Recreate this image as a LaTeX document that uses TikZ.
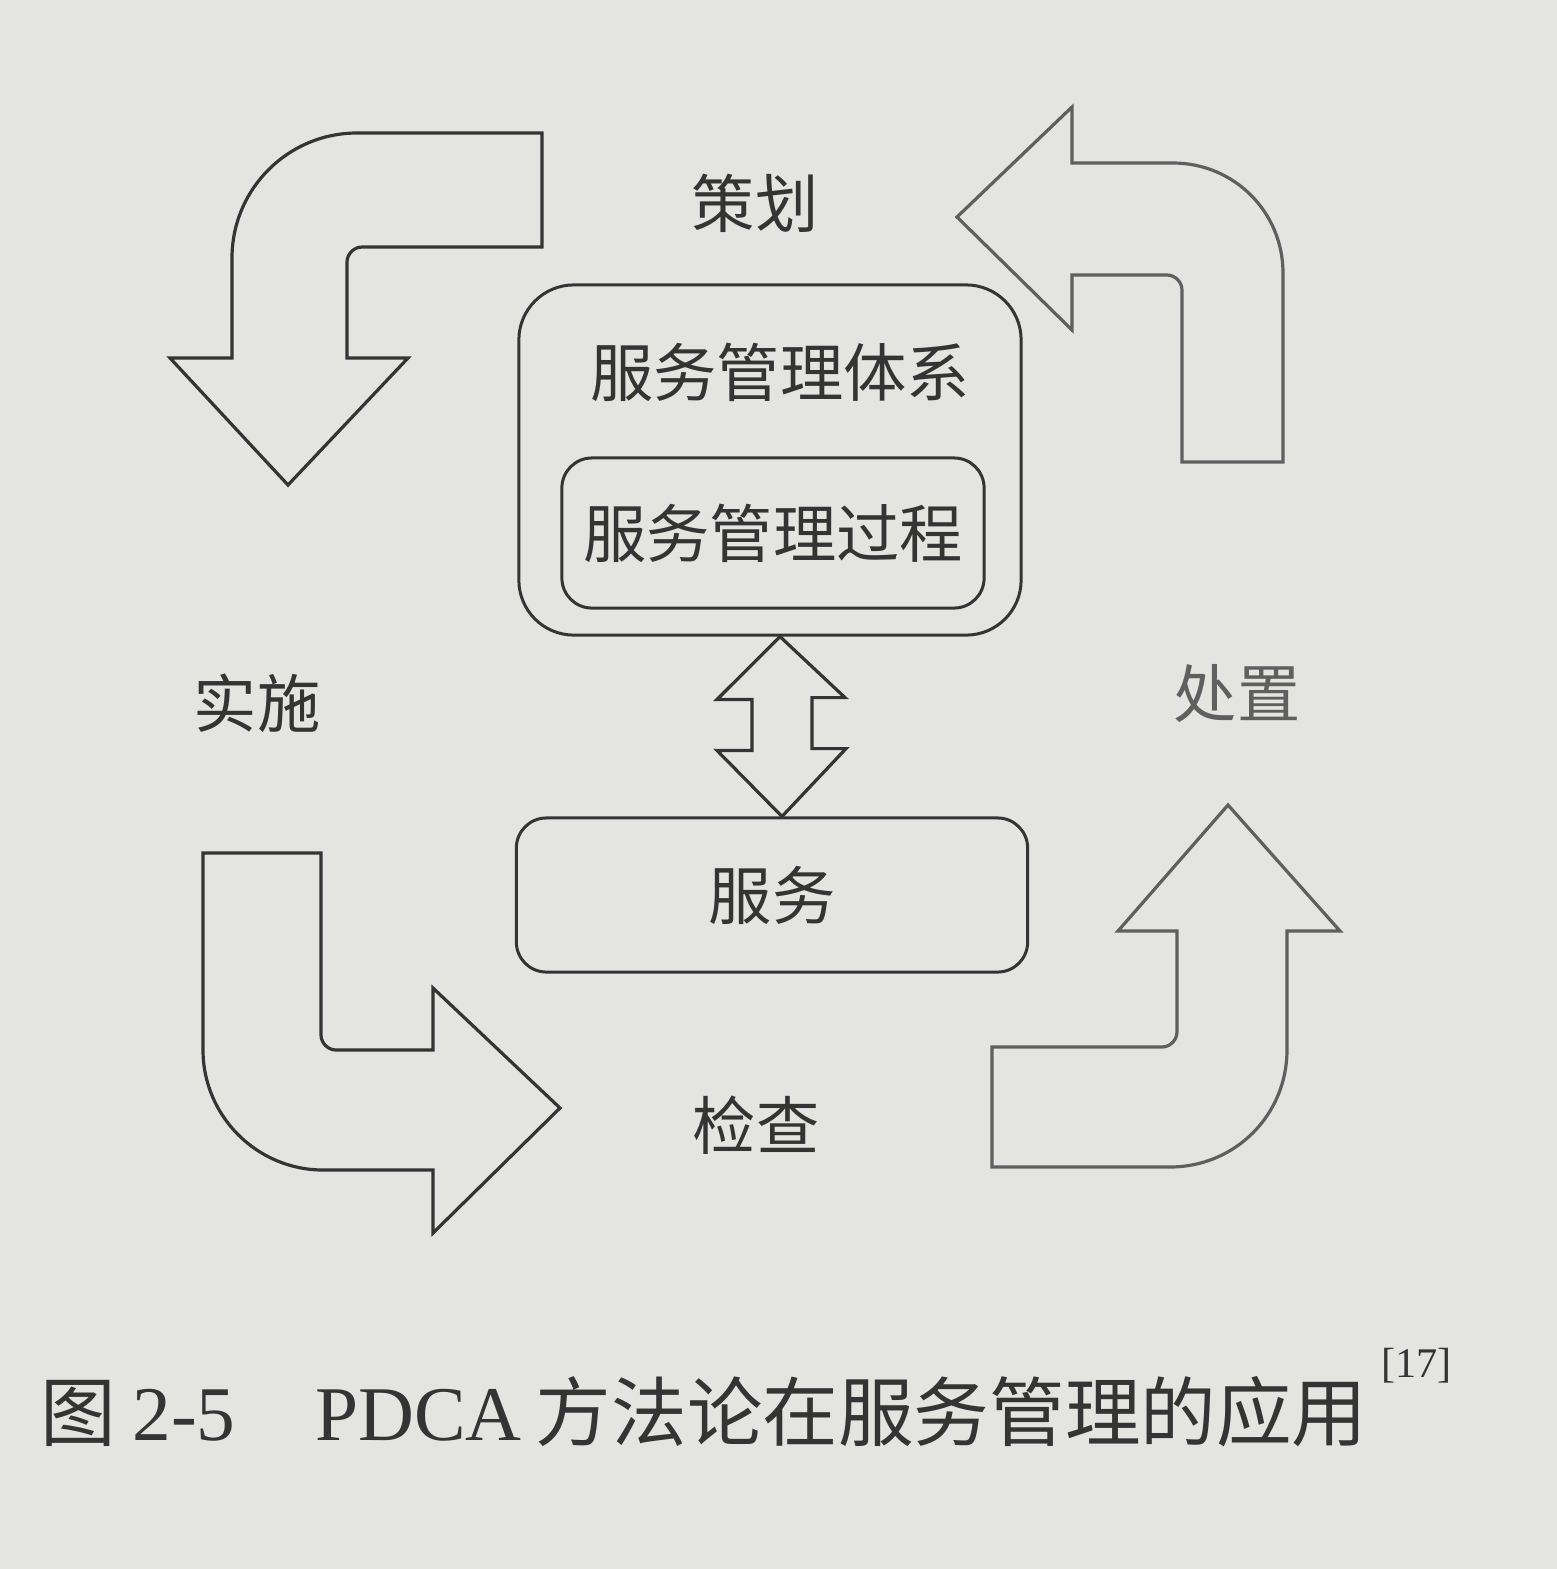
\documentclass[tikz,border=0pt]{standalone}
\usepackage{fontspec}
\setmainfont{Liberation Serif}
\newfontfamily\cjk{Noto Sans CJK SC}
\newcommand\cjklabel{\fontsize{18pt}{21pt}\selectfont\cjk}
\definecolor{paper}{RGB}{228,228,224}
\definecolor{inkdark}{RGB}{52,52,52}
\definecolor{inksoft}{RGB}{95,95,95}
\begin{document}
\begin{tikzpicture}[
  x=0.01cm, y=-0.01cm,
  bigarrow/.style={draw=inkdark, line width=0.032cm, line join=miter},
  softarrow/.style={bigarrow, draw=inksoft},
  panel/.style={draw=inkdark, line width=0.03cm, inner sep=0pt},
  word/.style={inner sep=0pt, text=inkdark, font=\cjklabel},
]
% page
\fill[paper] (0,0) rectangle (1557,1569);
\useasboundingbox (0,0) rectangle (1557,1569);

% central blocks
\node[panel, minimum width=5.02cm, minimum height=3.5cm, rounded corners=0.55cm] (sys) at (770,460) {};
\node[word] (systxt) at (780,372) {服务管理体系};
\node[panel, minimum width=4.22cm, minimum height=1.5cm, rounded corners=0.3cm, font=\cjklabel, text=inkdark] (proc) at (773,533) {服务管理过程};
\node[panel, minimum width=5.11cm, minimum height=1.54cm, rounded corners=0.3cm, font=\cjklabel, text=inkdark] (svc) at (772,895) {服务};

% two-way arrow between the system and the service
\draw[bigarrow] ([xshift=0.1cm]sys.south) -- ++(65,61) -- ++(-33,0) -- ++(0,51) -- ++(34,0)
  -- ([xshift=0.1cm]svc.north) -- ++(-65,-66) -- ++(35,0) -- ++(0,-51) -- ++(-35,0) -- cycle;

% phase labels
\node[word] (plan) at (755,203) {策划};
\node[word] (do) at (257,703) {实施};
\node[word, text=inksoft] (act) at (1237,694) {处置};
\node[word] (check) at (756,1125) {检查};

% plan -> do
\draw[bigarrow] (542,133) -- (357,133) .. controls (288,133) and (232,189) .. (232,258)
  -- (232,358) -- (170,358) -- (288,485) -- (408,358) -- (347,358) -- (347,262)
  .. controls (347,254) and (354,247) .. (362,247) -- (542,247) -- cycle;

% act -> plan
\draw[softarrow] (957,217) -- (1072,107) -- (1072,163) -- (1173,163)
  .. controls (1234,163) and (1283,212) .. (1283,273) -- (1283,462) -- (1182,462) -- (1182,290)
  .. controls (1182,282) and (1175,275) .. (1167,275) -- (1072,275) -- (1072,330) -- cycle;

% do -> check
\draw[bigarrow] (203,853) -- (321,853) -- (321,1035) .. controls (321,1043) and (328,1050) .. (336,1050)
  -- (433,1050) -- (433,988) -- (560,1108) -- (433,1233) -- (433,1170) -- (323,1170)
  .. controls (257,1170) and (203,1116) .. (203,1050) -- cycle;

% check -> act
\draw[softarrow] (1228,805) -- (1340,931) -- (1287,931) -- (1287,1050)
  .. controls (1287,1115) and (1235,1167) .. (1170,1167) -- (992,1167) -- (992,1047) -- (1162,1047)
  .. controls (1170,1047) and (1177,1040) .. (1177,1032) -- (1177,931) -- (1118,931) -- cycle;

% caption
\node[anchor=base west, inner sep=0pt, text=inkdark] (cap) at (40,1440)
  {\fontsize{22pt}{26pt}\selectfont{\cjk\fontsize{21.5pt}{26pt}\selectfont 图}\hspace{0.16cm}2-5\hspace{0.8cm}PDCA\hspace{0.14cm}{\cjk\fontsize{21.5pt}{26pt}\selectfont 方法论在服务管理的应用}\hspace{0.14cm}\raisebox{0.62cm}{\fontsize{12pt}{13pt}\selectfont [17]}};
\end{tikzpicture}
\end{document}
